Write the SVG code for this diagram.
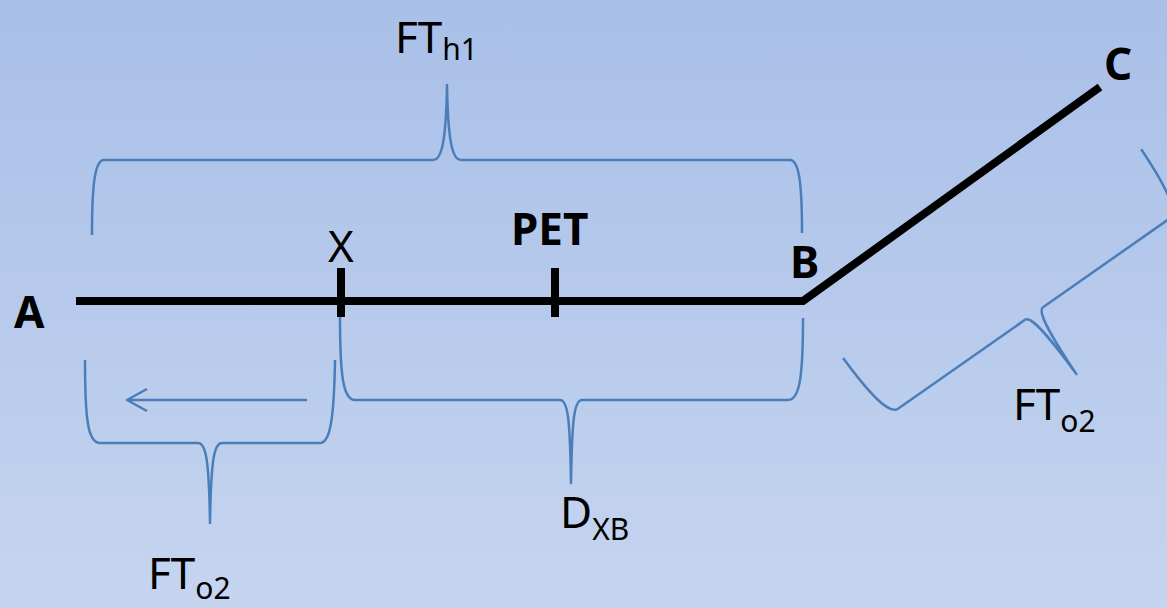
<svg xmlns="http://www.w3.org/2000/svg" width="1167" height="608" viewBox="0 0 1167 608">
<defs>
<linearGradient id="bg" x1="0" y1="0" x2="0" y2="1">
<stop offset="0" stop-color="#a8bfe8"/>
<stop offset="1" stop-color="#c6d5ef"/>
</linearGradient>
<style>
.brace{fill:none;stroke:#4a7ebb;stroke-width:2.5;stroke-linejoin:round}
.path{fill:none;stroke:#000;stroke-width:8;stroke-linecap:butt}
.tick{stroke:#000;stroke-width:8}
.lbl{font-family:"Noto Sans","Liberation Sans",sans-serif;font-size:44px;fill:#000}
.b{font-weight:bold}
.sub{font-size:30px}
</style>
</defs>
<rect width="1167" height="608" fill="url(#bg)"/>
<g id="connectors">
<path class="path" d="M76,301 L803,301 L1100,87"/>
<path class="brace" d="M307,400 L127,400 M147,389 L127,400 L147,411"/>
</g>
<g id="tick-X"><line class="tick" x1="341" y1="268" x2="341" y2="317"/></g>
<g id="tick-PET"><line class="tick" x1="555" y1="268" x2="555" y2="317"/></g>
<g id="brace-FTh1">
<path class="brace" d="M92,235 C92,190 94,160 104,160 L433,160 C442,160 446,140 447,85 C448,140 452,160 461,160 L790,160 C800,160 802,190 802,233"/>
<text class="lbl" x="395" y="53">FT<tspan class="sub" dy="7">h1</tspan></text>
</g>
<g id="brace-FTo2-left">
<path class="brace" d="M85,360 C85,420 88,443 100,443 L198,443 C206,443 209,460 210,523 C211,460 214,443 222,443 L320,443 C330,443 334,420 335,360"/>
<text class="lbl" x="148" y="589">FT<tspan class="sub" dy="10">o2</tspan></text>
</g>
<g id="brace-DXB">
<path class="brace" d="M340,317 C340,375 343,400 355,400 L560,400 C568,400 570,420 571,483 C572,420 574,400 582,400 L788,400 C800,400 803,375 803,318"/>
<text class="lbl" x="560" y="528">D<tspan class="sub" dy="12">XB</tspan></text>
</g>
<g id="brace-FTo2-right">
<path class="brace" transform="translate(1034,313.5) rotate(-35)" d="M-182,-73 C-181,-30 -177,0 -166,0 L-11,0 C-3,0 -1,30 0,74 C1,30 3,0 11,0 L166,0 C177,0 181,-30 182,-73"/>
<text class="lbl" x="1013" y="420">FT<tspan class="sub" dy="12">o2</tspan></text>
</g>
<g id="node-A"><text class="lbl b" x="14" y="328">A</text></g>
<g id="node-X"><text class="lbl" x="328" y="262">X</text></g>
<g id="node-PET"><text class="lbl b" x="511" y="245">PET</text></g>
<g id="node-B"><text class="lbl b" x="790" y="278">B</text></g>
<g id="node-C"><text class="lbl b" x="1104" y="80">C</text></g>
</svg>
